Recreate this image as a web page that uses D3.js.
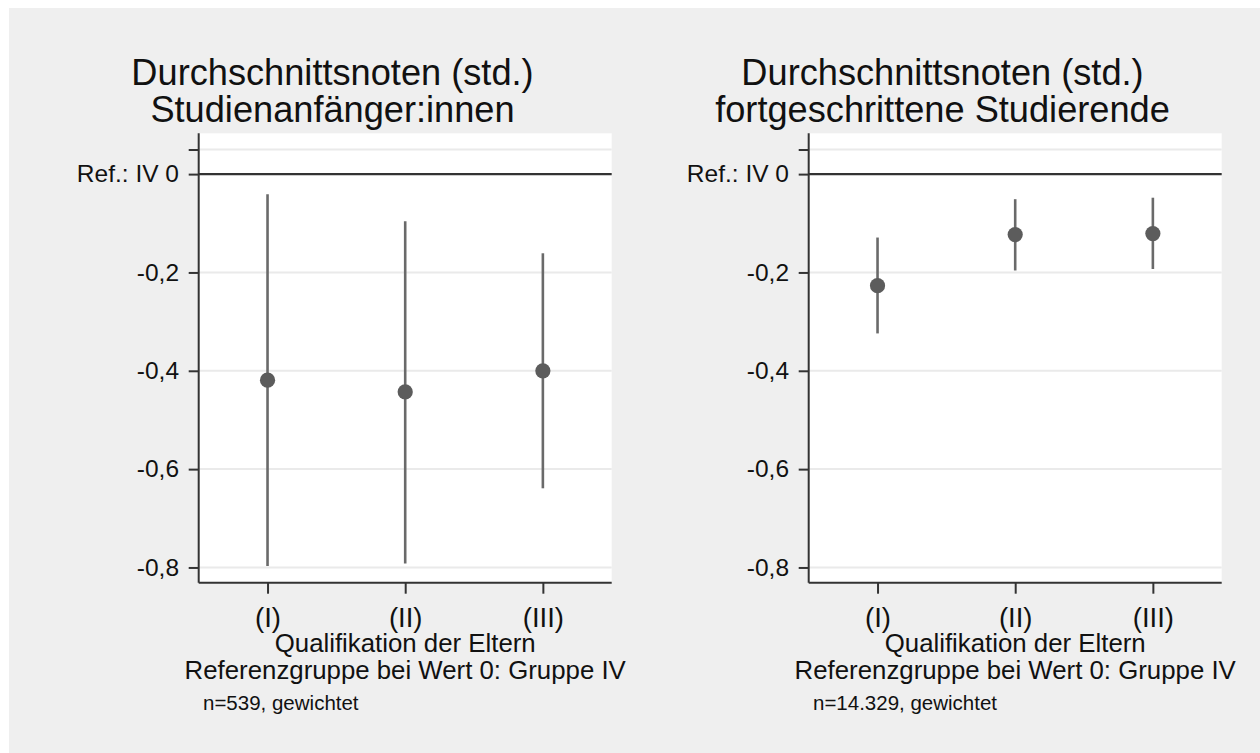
<!DOCTYPE html>
<html>
<head>
<meta charset="utf-8">
<script src="https://cdn.jsdelivr.net/npm/d3@7"></script>
<style>
  html, body { margin: 0; padding: 0; background: #ffffff; }
  svg { display: block; }
  text { font-family: "Liberation Sans", Arial, sans-serif; fill: #111; }
</style>
</head>
<body>
<svg id="chart" width="1260" height="753"></svg>
<script>
// ---- data ----
const categories = ["(I)", "(II)", "(III)"];
const estimateBeginners = [-0.419, -0.443, -0.400];
const lowerBeginners    = [-0.797, -0.792, -0.639];
const upperBeginners    = [-0.041, -0.096, -0.161];
const estimateAdvanced  = [-0.227, -0.123, -0.121];
const lowerAdvanced     = [-0.324, -0.196, -0.193];
const upperAdvanced     = [-0.129, -0.051, -0.048];
const yTickValues = [0.05, 0, -0.2, -0.4, -0.6, -0.8];
const yTickLabels = ["", "Ref.: IV 0", "-0,2", "-0,4", "-0,6", "-0,8"];
const titlesBeginners = ["Durchschnittsnoten (std.)", "Studienanfänger:innen"];
const titlesAdvanced  = ["Durchschnittsnoten (std.)", "fortgeschrittene Studierende"];
const xTitleLines = ["Qualifikation der Eltern", "Referenzgruppe bei Wert 0: Gruppe IV"];
const noteBeginners = "n=539, gewichtet";
const noteAdvanced  = "n=14.329, gewichtet";

// ---- layout ----
const svg = d3.select("#chart");
svg.append("rect").attr("x", 9).attr("y", 8).attr("width", 1251).attr("height", 745).attr("fill", "#efefef");

const plotW = 413, plotTop = 133.3, plotBottom = 582.7;
const y = d3.scaleLinear().domain([-0.831, 0.083]).range([plotBottom, plotTop]);
const x = d3.scalePoint().domain(categories).range([0, plotW]).padding(0.5);

function panel(left, titles, est, lo, hi, note) {
  const g = svg.append("g").attr("transform", `translate(${left},0)`);
  g.append("rect").attr("x", 0).attr("y", plotTop).attr("width", plotW)
    .attr("height", plotBottom - plotTop).attr("fill", "#ffffff");

  // grid lines
  g.selectAll("line.grid").data(yTickValues.filter(v => v !== 0)).join("line")
    .attr("class", "grid")
    .attr("x1", 0).attr("x2", plotW)
    .attr("y1", d => y(d)).attr("y2", d => y(d))
    .attr("stroke", "#eaeaea").attr("stroke-width", 2);

  // reference line at 0
  g.append("line").attr("x1", 0).attr("x2", plotW)
    .attr("y1", y(0)).attr("y2", y(0))
    .attr("stroke", "#333").attr("stroke-width", 2.2);

  // whiskers
  g.selectAll("line.ci").data(categories).join("line")
    .attr("class", "ci")
    .attr("x1", d => x(d)).attr("x2", d => x(d))
    .attr("y1", (d, i) => y(lo[i])).attr("y2", (d, i) => y(hi[i]))
    .attr("stroke", "#6a6a6a").attr("stroke-width", 2.6);

  // points
  g.selectAll("circle.pt").data(categories).join("circle")
    .attr("class", "pt")
    .attr("cx", d => x(d)).attr("cy", (d, i) => y(est[i]))
    .attr("r", 7.6).attr("fill", "#5c5c5c");

  // y axis
  const yAxis = d3.axisLeft(y).tickValues(yTickValues)
    .tickFormat((d, i) => yTickLabels[i]).tickSize(10).tickPadding(9.7);
  const ya = g.append("g").call(yAxis);
  ya.select(".domain").attr("stroke", "#333").attr("stroke-width", 2)
    .attr("d", `M0,${plotTop}V${plotBottom}`);
  ya.selectAll(".tick line").attr("stroke", "#333").attr("stroke-width", 2);
  ya.selectAll(".tick text").attr("font-size", 24.5).attr("fill", "#111")
    .attr("font-family", "Liberation Sans, Arial, sans-serif");

  // x axis
  const xAxis = d3.axisBottom(x).tickSize(11);
  const xa = g.append("g").attr("transform", `translate(0,${plotBottom})`).call(xAxis);
  xa.select(".domain").attr("stroke", "#333").attr("stroke-width", 2)
    .attr("d", `M0,0H${plotW}`);
  xa.selectAll(".tick line").attr("stroke", "#333").attr("stroke-width", 2);
  xa.selectAll(".tick text").attr("font-size", 27.5).attr("fill", "#111")
    .attr("font-family", "Liberation Sans, Arial, sans-serif")
    .attr("y", 44).attr("dy", 0);

  // x title
  g.selectAll("text.xt").data(xTitleLines).join("text")
    .attr("class", "xt")
    .attr("x", plotW / 2).attr("y", (d, i) => 652.3 + i * 26.4)
    .attr("text-anchor", "middle").attr("font-size", 25.8).text(d => d);

  // title
  g.selectAll("text.tt").data(titles).join("text")
    .attr("class", "tt")
    .attr("x", 133.8).attr("y", (d, i) => 85 + i * 36.7)
    .attr("text-anchor", "middle").attr("font-size", 36.2).text(d => d);

  // note
  g.append("text").attr("x", 4.3).attr("y", 710)
    .attr("font-size", 20.5).text(note);
}

panel(198.7, titlesBeginners, estimateBeginners, lowerBeginners, upperBeginners, noteBeginners);
panel(808.7, titlesAdvanced, estimateAdvanced, lowerAdvanced, upperAdvanced, noteAdvanced);
</script>
</body>
</html>
